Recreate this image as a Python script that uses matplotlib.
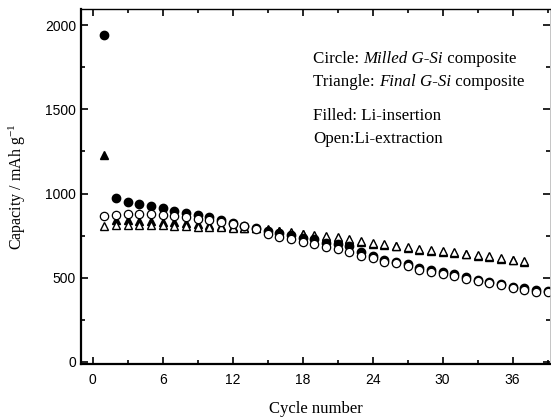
import matplotlib
matplotlib.use("Agg")
import matplotlib.pyplot as plt
from matplotlib.ticker import MultipleLocator
from matplotlib.transforms import offset_copy

plt.rcParams['mathtext.fontset'] = 'custom'
plt.rcParams['mathtext.rm'] = 'Liberation Serif'
plt.rcParams['mathtext.it'] = 'Liberation Serif:italic'

# Milled G-Si composite (circles)
milled_cycles = list(range(1, 40))
milled_insert = [1940, 976, 947, 936, 925, 913, 899, 883, 875, 860,
                 843, 824, 806, 797, 780, 765, 752, 738, 728, 708,
                 698, 688, 650, 632, 606, 596, 584, 560, 547, 534,
                 521, 505, 488, 477, 465, 448, 437, 428, 424]
milled_extract = [865, 873, 878, 880, 878, 874, 868, 860, 850, 842,
                  832, 818, 805, 790, 758, 740, 730, 710, 698, 680,
                  673, 652, 630, 616, 596, 585, 572, 548, 535, 522,
                  510, 494, 478, 466, 455, 438, 428, 418, 414]

# Final G-Si composite (triangles)
final_cycles = list(range(1, 38))
final_insert = [1230, 845, 840, 838, 836, 834, 830, 825, 818, 812,
                806, 800, 797, 793, 786, 776, 766, 757, 748, 742,
                735, 724, 712, 701, 694, 686, 678, 666, 658, 652,
                646, 639, 630, 623, 613, 603, 593]
final_extract = [806, 812, 812, 812, 812, 812, 810, 805, 803, 803,
                 800, 798, 797, 795, 790, 780, 770, 762, 752, 747,
                 740, 729, 717, 706, 699, 691, 683, 671, 663, 657,
                 651, 644, 635, 628, 618, 608, 598]

fig = plt.figure(figsize=(5.51, 4.17), dpi=100)
ax = fig.add_axes([0.147, 0.128, 0.851, 0.850])

ms = 6
ax.plot(final_cycles, final_insert, '^', color='black', ms=ms, ls='none')
ax.plot(final_cycles, final_extract, '^', mfc='white', mec='black', mew=1.0, ms=ms, ls='none')
ax.plot(milled_cycles, milled_insert, 'o', color='black', ms=ms, ls='none')
ax.plot(milled_cycles, milled_extract, 'o', mfc='white', mec='black', mew=0.9, ms=ms, ls='none')

ax.set_xlim(-1, 39.2)
ax.set_ylim(-10, 2095)
ax.xaxis.set_major_locator(MultipleLocator(6))
ax.xaxis.set_minor_locator(MultipleLocator(3))
ax.yaxis.set_major_locator(MultipleLocator(500))
ax.yaxis.set_minor_locator(MultipleLocator(250))
ax.tick_params(which='both', direction='in', top=True, right=True, width=1.2)
ax.tick_params(which='major', length=5)
ax.tick_params(which='minor', length=3)
for lab in ax.get_xticklabels() + ax.get_yticklabels():
    lab.set_family('Liberation Sans')
    lab.set_fontsize(10)
ax.tick_params(axis='x', pad=7)

ax.spines['left'].set_linewidth(1.6)
ax.spines['bottom'].set_linewidth(1.6)
ax.spines['top'].set_linewidth(1.0)
ax.spines['right'].set_linewidth(0.6)
ax.spines['right'].set_color('#bbbbbb')

ax.set_xlabel('Cycle number', family='Liberation Serif', fontsize=12, labelpad=10)
ax.set_ylabel(r'Capacity / mAh g$^{-1}$', family='Liberation Serif', fontsize=11.5, labelpad=12)


def rich_text(x, y, parts):
    # draw pieces side by side, switching between normal and italic
    fig.canvas.draw()
    renderer = fig.canvas.get_renderer()
    dx = 0.0
    for s, style in parts:
        tr = offset_copy(ax.transAxes, fig=fig, x=dx, y=0, units='dots')
        t = ax.text(x, y, s, transform=tr, family='Liberation Serif',
                    style=style, fontsize=12.2, va='center', ha='left')
        bb = t.get_window_extent(renderer=renderer)
        dx += bb.width


rich_text(0.495, 0.860, [('Circle: ', 'normal'), ('Milled G-Si', 'italic'), (' composite', 'normal')])
rich_text(0.495, 0.795, [('Triangle: ', 'normal'), ('Final G-Si', 'italic'), (' composite', 'normal')])
rich_text(0.495, 0.700, [('Filled: Li-insertion', 'normal')])
rich_text(0.495, 0.635, [('Open:Li-extraction', 'normal')])

fig.savefig('out.png', dpi=100)
